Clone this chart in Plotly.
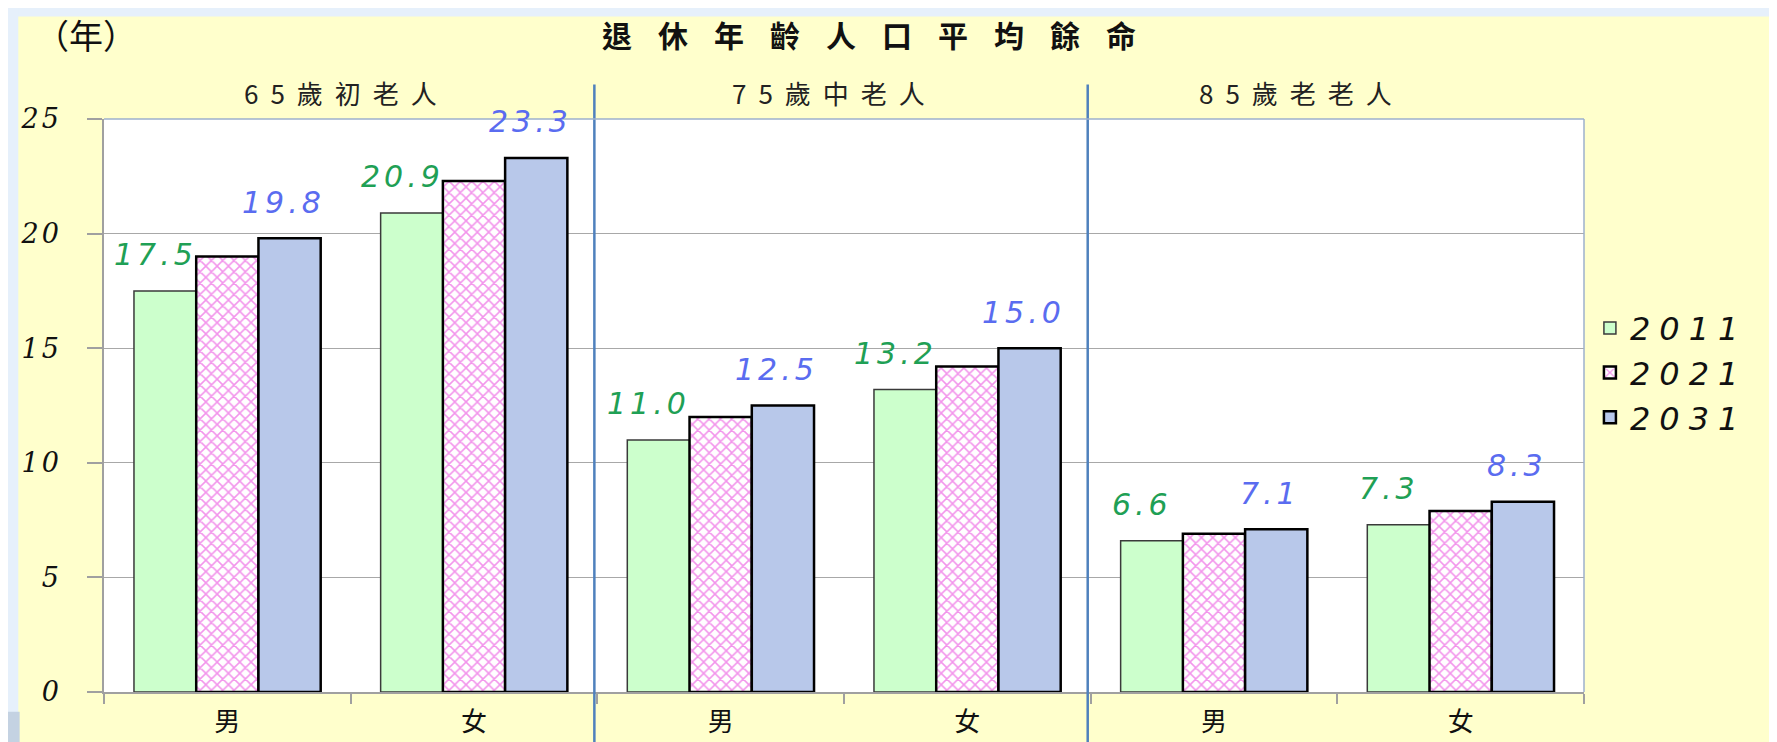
import plotly.graph_objects as go

# ---- data ----
groups = ["65歲初老人", "75歲中老人", "85歲老老人"]
sexes = ["男", "女"]
years = ["2011", "2021", "2031"]
v2011 = [17.5, 20.9, 11.0, 13.2, 6.6, 7.3]
v2021 = [19.0, 22.3, 12.0, 14.2, 6.9, 7.9]
v2031 = [19.8, 23.3, 12.5, 15.0, 7.1, 8.3]
y_ticks = [0, 5, 10, 15, 20, 25]
title_text = "退休年齡人口平均餘命"
unit_text = "（年）"

tick_text = [s for g in groups for s in sexes]
xpos = list(range(len(tick_text)))

W, H = 1777, 742
ML, MR, MT, MB = 91, 201, 111, 50
CJK = "Noto Sans CJK TC"
NUMFONT = "DejaVu Sans"


def spaced(t, px):
    return f'<span style="letter-spacing:{px}px">{t}</span>'


fig = go.Figure()
fig.add_trace(go.Bar(
    name=spaced(years[0], 9), x=xpos, y=v2011,
    marker=dict(color="#ccffcc", line=dict(color="#3a3a3a", width=1.5)),
))
fig.add_trace(go.Bar(
    name=spaced(years[1], 9), x=xpos, y=v2021,
    marker=dict(color="white", line=dict(color="black", width=2.5),
                pattern=dict(shape="x", fgcolor="#e62ad8", bgcolor="white",
                             size=8, solidity=0.35)),
))
fig.add_trace(go.Bar(
    name=spaced(years[2], 9), x=xpos, y=v2031,
    marker=dict(color="#b8c8ea", line=dict(color="black", width=2.5)),
))

annotations = []
for i, v in enumerate(v2011):
    annotations.append(dict(x=xpos[i], y=v, xref="x", yref="y", text=spaced(f"{v:.1f}", 4),
                            showarrow=False, xshift=-72, yshift=36, xanchor="center", yanchor="middle",
                            font=dict(family=NUMFONT, size=30, color="#1fa055", style="italic")))
for i, v in enumerate(v2031):
    annotations.append(dict(x=xpos[i], y=v, xref="x", yref="y", text=spaced(f"{v:.1f}", 4),
                            showarrow=False, xshift=56, yshift=36, xanchor="center", yanchor="middle",
                            font=dict(family=NUMFONT, size=30, color="#5a6cf0", style="italic")))
group_xshift = [-4, -10, -36]
for k, g in enumerate(groups):
    annotations.append(dict(x=(xpos[2 * k] + xpos[2 * k + 1]) / 2, y=1.046, xref="x", yref="paper",
                            text=spaced(g, 12), showarrow=False, xanchor="center", yanchor="middle",
                            xshift=group_xshift[k],
                            font=dict(family=CJK, size=26, color="#222")))
annotations.append(dict(x=0.526, y=1.148, xref="paper", yref="paper",
                        text="<b>" + spaced(title_text, 26) + "</b>",
                        showarrow=False, xanchor="center", yanchor="middle",
                        font=dict(family=CJK, size=30, color="#111")))
annotations.append(dict(x=-0.012, y=1.148, xref="paper", yref="paper", text=unit_text,
                        showarrow=False, xanchor="center", yanchor="middle",
                        font=dict(family=CJK, size=34, color="#111")))

shapes = []
# group dividers
for k in range(1, len(groups)):
    xb = (xpos[2 * k - 1] + xpos[2 * k]) / 2 - 0.012
    shapes.append(dict(type="line", xref="x", yref="paper", x0=xb, x1=xb, y0=-0.2, y1=1.06,
                       line=dict(color="#4f81bd", width=2.5), layer="above"))
# top/right plot border
shapes.append(dict(type="line", xref="paper", yref="paper", x0=0, x1=1, y0=1, y1=1,
                   line=dict(color="#9cb0cc", width=1.5)))
shapes.append(dict(type="line", xref="paper", yref="paper", x0=1, x1=1, y0=0, y1=1,
                   line=dict(color="#9cb0cc", width=1.5)))
# outer light blue strips
shapes.append(dict(type="rect", xref="paper", yref="paper", x0=-0.1, x1=1.2, y0=1.179, y1=1.25,
                   fillcolor="#e6f0fb", line=dict(width=0), layer="below"))
shapes.append(dict(type="rect", xref="paper", yref="paper", x0=-0.1, x1=-0.0579, y0=-0.2, y1=1.25,
                   fillcolor="#e6f0fb", line=dict(width=0), layer="below"))
shapes.append(dict(type="rect", xref="paper", yref="paper", x0=-0.1, x1=-0.0570, y0=-0.2, y1=-0.0344,
                   fillcolor="#c4d2e2", line=dict(width=0), layer="below"))

fig.update_layout(
    width=W, height=H,
    margin=dict(l=ML, r=MR, t=MT, b=MB),
    paper_bgcolor="#ffffcc",
    plot_bgcolor="white",
    barmode="group", bargap=0.243, bargroupgap=0,
    showlegend=True,
    legend=dict(x=1.004, y=0.683, xanchor="left", yanchor="top",
                bgcolor="rgba(0,0,0,0)", tracegroupgap=0,
                font=dict(family=NUMFONT, size=32, color="#111", style="italic")),
    annotations=annotations,
    shapes=shapes,
    xaxis=dict(
        range=[-0.5, len(xpos) - 0.5],
        tickmode="array", tickvals=xpos, ticktext=tick_text,
        ticks="", showgrid=False, zeroline=False,
        showline=True, linecolor="#a0a0a0", linewidth=1.5,
        tickfont=dict(family=CJK, size=26, color="#111"),
        ticklabelstandoff=6,
        minor=dict(ticks="outside", ticklen=10, tickcolor="#a0a0a0", tickwidth=1.5,
                   tick0=-0.5, dtick=1, showgrid=False),
    ),
    yaxis=dict(
        range=[0, 25], tickmode="array", tickvals=y_ticks,
        ticktext=[spaced(str(t), 3) for t in y_ticks],
        ticks="outside", ticklen=15, tickcolor="#a0a0a0", tickwidth=1.5,
        showgrid=True, gridcolor="#a8a8a8", gridwidth=1,
        zeroline=False, showline=True, linecolor="#a0a0a0", linewidth=1.5,
        tickfont=dict(family="DejaVu Serif", size=27, color="#111", style="italic"),
        ticklabelstandoff=20,
    ),
)

fig.write_html("out.html")
